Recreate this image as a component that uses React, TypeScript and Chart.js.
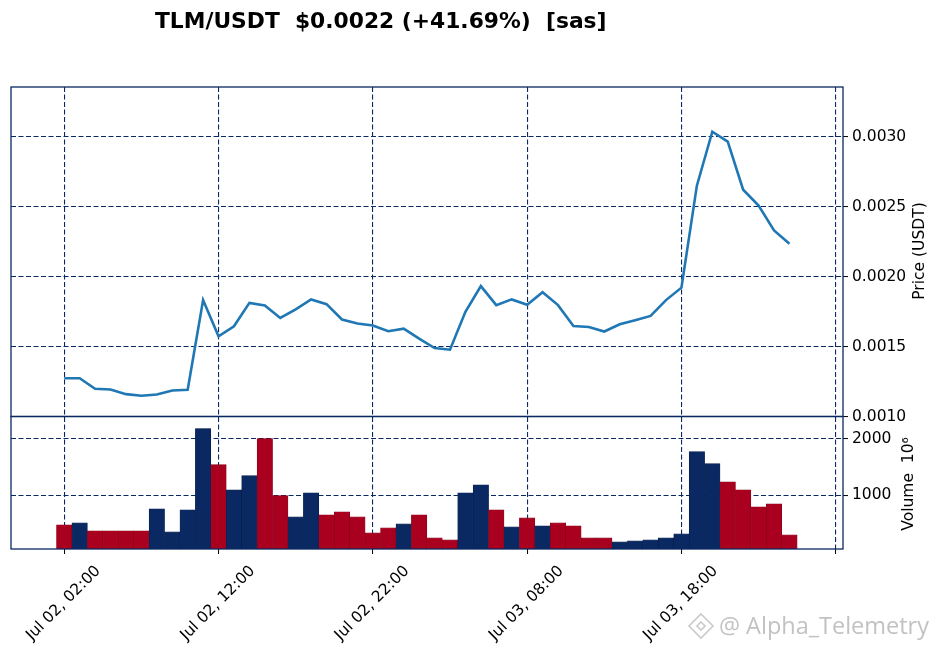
import { useEffect, useRef } from "react";
import { Chart, registerables } from "chart.js";

Chart.register(...registerables);

// hourly closes, Jul 02 02:00 -> Jul 04 01:00
const closes = [
  0.001274, 0.001274, 0.001198, 0.001193, 0.00116, 0.001148, 0.001157, 0.001186,
  0.001191, 0.001833, 0.001574, 0.001646, 0.001813, 0.001794, 0.001705, 0.001766,
  0.001838, 0.001804, 0.001694, 0.001665, 0.001651, 0.00161, 0.001629, 0.001557,
  0.00149, 0.001478, 0.001749, 0.001933, 0.001797, 0.001838, 0.001799, 0.00189,
  0.001797, 0.001648, 0.001641, 0.001608, 0.00166, 0.001689, 0.00172, 0.001833,
  0.001922, 0.002652, 0.003038, 0.002967, 0.002623, 0.002509, 0.002331, 0.002236,
];

// volume in millions
const volumes = [
  470, 505, 363, 363, 363, 363, 755, 345, 737, 2184, 1541, 1095, 1345, 2005, 990, 612,
  1041, 648, 702, 612, 327, 416, 487, 648, 238, 202, 1041, 1184, 737, 434, 594, 452,
  505, 452, 238, 238, 166, 184, 202, 238, 309, 1773, 1559, 1237, 1095, 791, 845, 291,
];

// hours from the first candle
const tickHours = [0, 10, 20, 30, 40, 50];
const tickLabels = [
  "Jul 02, 02:00",
  "Jul 02, 12:00",
  "Jul 02, 22:00",
  "Jul 03, 08:00",
  "Jul 03, 18:00",
  "",
];
const priceTicks = [0.001, 0.0015, 0.002, 0.0025, 0.003];
const volumeTicks = [1000, 2000];

const title = "TLM/USDT  $0.0022 (+41.69%)  [sas]";

const NAVY = "#0a2862";
const UP = "#0a2862";
const DOWN = "#a9001f";
const FONT = "DejaVu Sans";

const overlay = {
  id: "overlay",
  afterDraw(chart: any) {
    const { ctx, chartArea, scales } = chart;
    ctx.save();
    // panel frames
    ctx.strokeStyle = NAVY;
    ctx.lineWidth = 1.3;
    for (const id of ["yp", "yv"]) {
      const s = scales[id];
      ctx.strokeRect(chartArea.left, s.top, chartArea.right - chartArea.left, s.bottom - s.top);
    }

    ctx.fillStyle = "#000";
    ctx.font = `bold 21.8px "${FONT}"`;
    ctx.textAlign = "left";
    ctx.textBaseline = "alphabetic";
    ctx.fillText(title, 155, 28);

    ctx.font = `15.5px "${FONT}"`;
    ctx.textAlign = "center";
    ctx.textBaseline = "middle";
    ctx.save();
    ctx.translate(920, 251);
    ctx.rotate(-Math.PI / 2);
    ctx.fillText("Price (USDT)", 0, 0);
    ctx.restore();
    ctx.save();
    ctx.translate(909, 484);
    ctx.rotate(-Math.PI / 2);
    ctx.fillText("Volume  10\u2076", 0, 0);
    ctx.restore();

    // watermark
    ctx.fillStyle = "#c2c2c2";
    ctx.strokeStyle = "#cacaca";
    ctx.font = `23.5px "Open Sans"`;
    ctx.textAlign = "right";
    ctx.textBaseline = "alphabetic";
    ctx.fillText("@ Alpha_Telemetry", 929, 634);
    ctx.lineWidth = 1.6;
    const cx = 701;
    const cy = 626;
    ctx.beginPath();
    ctx.moveTo(cx, cy - 12);
    ctx.lineTo(cx + 12, cy);
    ctx.lineTo(cx, cy + 12);
    ctx.lineTo(cx - 12, cy);
    ctx.closePath();
    ctx.stroke();
    ctx.beginPath();
    ctx.moveTo(cx, cy - 4);
    ctx.lineTo(cx + 4, cy);
    ctx.lineTo(cx, cy + 4);
    ctx.lineTo(cx - 4, cy);
    ctx.closePath();
    ctx.stroke();
    ctx.restore();
  },
};

export default function App() {
  const chartRef = useRef<HTMLCanvasElement>(null);

  useEffect(() => {
    if (!chartRef.current) return;
    document.body.style.margin = "0";

    const idx = closes.map((_, i) => i);
    const barColors = closes.map((c, i) => (i > 0 && c >= closes[i - 1] ? UP : DOWN));
    const barEdges = closes.map((c, i) => (i > 0 && c >= closes[i - 1] ? "#061c4a" : "#85001a"));

    const tickFont = { family: FONT, size: 15.5 };
    const gridOpts = {
      color: NAVY,
      lineWidth: 1.1,
      tickColor: "#000",
      tickLength: 5,
      tickWidth: 1,
      tickBorderDash: [10, 0],
    };

    const chart = new Chart(chartRef.current, {
      type: "bar",
      data: {
        datasets: [
          {
            type: "line",
            data: idx.map((i) => ({ x: i, y: closes[i] })),
            yAxisID: "yp",
            borderColor: "#1f77b4",
            borderWidth: 2.6,
            pointRadius: 0,
            tension: 0,
            order: 0,
          },
          {
            type: "bar",
            data: idx.map((i) => ({ x: i, y: volumes[i] })),
            yAxisID: "yv",
            backgroundColor: barColors,
            borderColor: barEdges,
            borderWidth: 0.6,
            categoryPercentage: 1,
            barPercentage: 1,
            order: 1,
          },
        ],
      },
      options: {
        responsive: false,
        animation: false,
        layout: { padding: { left: 11, top: 87, right: 0, bottom: 0 } },
        plugins: {
          legend: { display: false },
          tooltip: { enabled: false },
        },
        scales: {
          x: {
            type: "linear",
            min: -3.45,
            max: 50.47,
            offset: false,
            afterBuildTicks: (axis: any) => {
              axis.ticks = tickHours.map((v) => ({ value: v }));
            },
            afterFit: (axis: any) => {
              axis.height = 102;
              axis.paddingLeft = 0;
              axis.paddingRight = 0;
            },
            ticks: {
              minRotation: 45,
              maxRotation: 45,
              autoSkip: false,
              labelOffset: 34,
              padding: 8,
              color: "#000",
              font: tickFont,
              callback: (v: any) => tickLabels[tickHours.indexOf(Number(v))] ?? "",
            },
            grid: { ...gridOpts, offset: false },
            border: { display: false, dash: [5, 2.5] },
          },
          yp: {
            type: "linear",
            position: "right",
            stack: "panels",
            stackWeight: 329.5,
            min: 0.001,
            max: 0.003358,
            afterBuildTicks: (axis: any) => {
              axis.ticks = priceTicks.map((v) => ({ value: v }));
            },
            afterFit: (axis: any) => {
              axis.width = 97;
            },
            ticks: {
              padding: 4,
              color: "#000",
              font: tickFont,
              callback: (v: any) => Number(v).toFixed(4),
            },
            grid: gridOpts,
            border: { display: false, dash: [5, 2.5] },
          },
          yv: {
            type: "linear",
            position: "right",
            stack: "panels",
            stackWeight: 132.5,
            min: 40,
            max: 2398,
            afterBuildTicks: (axis: any) => {
              axis.ticks = volumeTicks.map((v) => ({ value: v }));
            },
            afterFit: (axis: any) => {
              axis.width = 97;
            },
            ticks: {
              padding: 4,
              color: "#000",
              font: tickFont,
              callback: (v: any) => String(v),
            },
            grid: gridOpts,
            border: { display: false, dash: [5, 2.5] },
          },
        },
      },
      plugins: [overlay],
    });

    return () => {
      chart.destroy();
    };
  }, []);

  return (
    <div style={{ position: "absolute", left: 0, top: 0, width: 940, height: 651, background: "#fff" }}>
      <canvas ref={chartRef} width={940} height={651} style={{ display: "block" }} />
    </div>
  );
}
